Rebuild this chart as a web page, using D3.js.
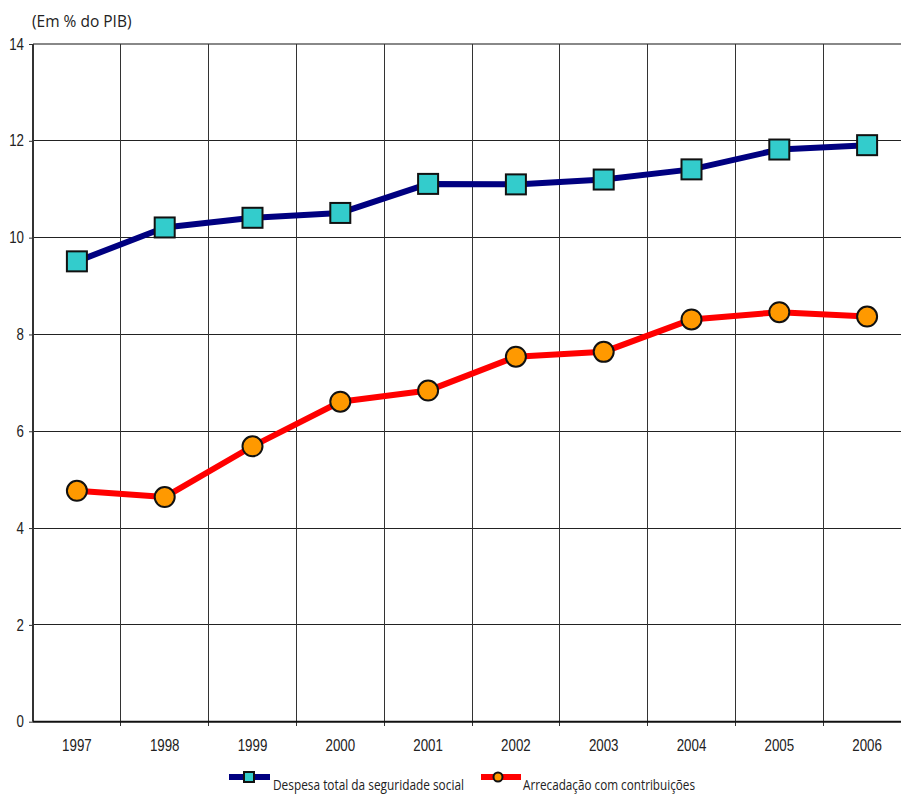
<!DOCTYPE html>
<html><head><meta charset="utf-8">
<script src="https://cdn.jsdelivr.net/npm/d3@7"></script>
<style>
html,body{margin:0;padding:0;background:#fff;}
svg{display:block;font-family:"Open Sans",sans-serif;}
</style></head>
<body>
<svg id="chart" width="901" height="794"></svg>
<script>
const years = ["1997","1998","1999","2000","2001","2002","2003","2004","2005","2006"];
const despesa = [9.51, 10.21, 10.41, 10.51, 11.11, 11.10, 11.20, 11.41, 11.82, 11.91];
const arrecadacao = [4.77, 4.64, 5.69, 6.61, 6.84, 7.54, 7.64, 8.31, 8.46, 8.37];
const yTicks = [0, 2, 4, 6, 8, 10, 12, 14];
const unitLabel = "(Em % do PIB)";
const seriesNames = ["Despesa total da seguridade social", "Arrecadação com contribuições"];

(function(){
const svg = d3.select("#chart");
const pLeft = 33, pRight = 911, pTop = 44, pBottom = 721.7;
const DIGIT_W = 7.4;

const x = d3.scaleBand().domain(years).range([pLeft, pRight]);
const y = d3.scaleLinear().domain([0, 14]).range([pBottom, pTop]);

// horizontal gridlines
svg.append("g").selectAll("line").data(yTicks.filter(d => d > 0)).join("line")
  .attr("x1", pLeft).attr("x2", pRight)
  .attr("y1", d => y(d)).attr("y2", d => y(d))
  .attr("stroke", d => d === 14 ? "#888" : "#222")
  .attr("stroke-width", d => d === 14 ? 2 : 1)
  .attr("shape-rendering", "crispEdges");

// vertical gridlines at category boundaries
const bounds = years.slice(1).map(d => x(d));
svg.append("g").selectAll("line").data(bounds).join("line")
  .attr("x1", d => d).attr("x2", d => d)
  .attr("y1", pTop).attr("y2", pBottom + 4)
  .attr("stroke", "#333").attr("stroke-width", 1)
  .attr("shape-rendering", "crispEdges");

// y axis
const yAxis = svg.append("g").attr("transform", `translate(${pLeft},0)`)
  .call(d3.axisLeft(y).tickValues(yTicks).tickSize(4).tickPadding(5).tickFormat(d3.format("d")));
yAxis.select(".domain").attr("stroke", "#333").attr("stroke-width", 2).attr("d", `M0,${pTop}V${pBottom}`);
yAxis.selectAll(".tick line").attr("stroke", "#333");
yAxis.selectAll(".tick text").attr("font-size", 16).attr("fill", "#222")
  .attr("textLength", d => String(d).length * DIGIT_W).attr("lengthAdjust", "spacingAndGlyphs");

// x axis
const xAxis = svg.append("g").attr("transform", `translate(0,${pBottom})`)
  .call(d3.axisBottom(x).tickSize(0));
xAxis.select(".domain").attr("stroke", "#111").attr("stroke-width", 2).attr("d", `M${pLeft},0H${pRight}`);
xAxis.selectAll(".tick text").attr("font-size", 16).attr("fill", "#222")
  .attr("dy", null).attr("y", 29.3)
  .attr("textLength", d => d.length * DIGIT_W).attr("lengthAdjust", "spacingAndGlyphs");

// title
svg.append("text").attr("x", 32).attr("y", 27).attr("font-size", 15.5).attr("fill", "#222")
  .text(unitLabel);

const cx = d => x(d) + x.bandwidth() / 2;
const line = d3.line().x(d => cx(d[0])).y(d => y(d[1]));

const blueData = years.map((d, i) => [d, despesa[i]]);
const redData = years.map((d, i) => [d, arrecadacao[i]]);

svg.append("path").datum(redData).attr("d", line).attr("fill", "none")
  .attr("stroke", "#ff0000").attr("stroke-width", 6).attr("stroke-linejoin", "round");
svg.append("path").datum(blueData).attr("d", line).attr("fill", "none")
  .attr("stroke", "#000080").attr("stroke-width", 6).attr("stroke-linejoin", "round");

svg.append("g").selectAll("rect").data(blueData).join("rect")
  .attr("x", d => cx(d[0]) - 10).attr("y", d => y(d[1]) - 10)
  .attr("width", 20).attr("height", 20)
  .attr("fill", "#33cccc").attr("stroke", "#111").attr("stroke-width", 2);

svg.append("g").selectAll("circle").data(redData).join("circle")
  .attr("cx", d => cx(d[0])).attr("cy", d => y(d[1])).attr("r", 10)
  .attr("fill", "#ff9900").attr("stroke", "#111").attr("stroke-width", 2);

// legend
const lg = svg.append("g");
lg.append("line").attr("x1", 229).attr("x2", 270).attr("y1", 777).attr("y2", 777)
  .attr("stroke", "#000080").attr("stroke-width", 6);
lg.append("rect").attr("x", 244).attr("y", 772).attr("width", 10).attr("height", 10)
  .attr("fill", "#33cccc").attr("stroke", "#111").attr("stroke-width", 2);
lg.append("text").attr("x", 273).attr("y", 790).attr("font-size", 15).attr("fill", "#222")
  .attr("textLength", 191).attr("lengthAdjust", "spacingAndGlyphs").text(seriesNames[0]);
lg.append("line").attr("x1", 481).attr("x2", 521).attr("y1", 777).attr("y2", 777)
  .attr("stroke", "#ff0000").attr("stroke-width", 6);
lg.append("circle").attr("cx", 498).attr("cy", 777).attr("r", 4.5)
  .attr("fill", "#ff9900").attr("stroke", "#111").attr("stroke-width", 2);
lg.append("text").attr("x", 523).attr("y", 790).attr("font-size", 15).attr("fill", "#222")
  .attr("textLength", 172).attr("lengthAdjust", "spacingAndGlyphs").text(seriesNames[1]);
})();
</script>
</body></html>
